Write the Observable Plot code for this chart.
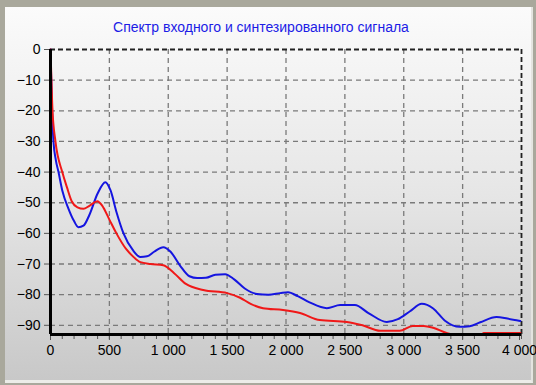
<!DOCTYPE html>
<html>
<head>
<meta charset="utf-8">
<script src="https://cdn.jsdelivr.net/npm/d3@7"></script>
<script src="https://cdn.jsdelivr.net/npm/@observablehq/plot@0.6"></script>
<style>
  html, body { margin: 0; padding: 0; }
  body { width: 536px; height: 385px; overflow: hidden; background: #d6d6d0; }
  #frame { position: absolute; left: 0; top: 0; width: 536px; height: 385px;
    background: #a9a89c; }
  #panel { position: absolute; left: 5px; top: 7px; width: 526px; height: 373px;
    background: linear-gradient(to bottom, #fbfbfb 0%, #e6e6e6 50%, #c8c8c8 100%);
    border-right: 2px solid #e4e4e0; border-bottom: 3px solid #ecece8; }
  #title { position: absolute; left: 0; top: 19px; width: 522px; text-align: center;
    font-family: "Liberation Sans", Arial, sans-serif; font-size: 14px; color: #1c1ce6; }
  #chart { position: absolute; left: 0; top: 40px; }
</style>
</head>
<body>
<div id="frame"></div>
<div id="panel"></div>
<div id="title">Спектр входного и синтезированного сигнала</div>
<div id="chart"></div>
<script>
// Frequency (Hz) and level (dB) of the input signal spectrum (blue)
const inputFreq = [0, 5, 12, 25, 45, 68, 100, 153, 200, 237, 280, 330, 400, 466, 510, 560, 620, 700, 763, 820, 880, 958, 1020, 1100, 1180, 1246, 1320, 1400, 1483, 1560, 1650, 1754, 1850, 1950, 2017, 2100, 2200, 2347, 2460, 2585, 2700, 2856, 2950, 3050, 3153, 3250, 3350, 3475, 3560, 3650, 3788, 3880, 3990];
const inputLevel = [0, -8, -18, -30, -36, -40, -46, -52, -56, -58, -57.5, -54, -47, -43.3, -46, -53, -60, -65.5, -67.7, -67.5, -66, -64.5, -66, -70.5, -74, -74.6, -74.5, -73.5, -73.3, -75, -78, -79.8, -80, -79.5, -79.2, -80.5, -82.5, -84.4, -83.4, -83.4, -86, -88.9, -88, -85.5, -83, -84.5, -88.5, -90.5, -90.3, -89, -87.3, -87.8, -88.6];

// Frequency (Hz) and level (dB) of the synthesized signal spectrum (red)
const synthFreq = [0, 8, 17, 42, 100, 140, 180, 229, 280, 330, 398, 440, 500, 560, 640, 700, 763, 850, 958, 1050, 1150, 1297, 1500, 1610, 1700, 1805, 1975, 2119, 2288, 2517, 2650, 2800, 2966, 3076, 3170, 3250, 3364, 3420, 3660, 3680, 3990];
const synthLevel = [0, -10, -20, -30, -40, -45, -49.5, -51.5, -52, -51, -49.5, -51, -55.5, -60, -65, -67.5, -69.4, -70, -70.4, -73, -76.5, -78.5, -79.5, -81, -83, -84.4, -85, -86, -88.3, -88.9, -90, -91.8, -91.8, -90.2, -90.2, -90.8, -92.5, -93, -93, -92.5, -92.5];

const xTicks = [0, 500, 1000, 1500, 2000, 2500, 3000, 3500, 4000];
const xMinorTicks = d3.range(0, 4001, 100);
const yTicks = [0, -10, -20, -30, -40, -50, -60, -70, -80, -90];

const inputData = inputFreq.map((f, i) => ({f, v: inputLevel[i]}));
const synthData = synthFreq.map((f, i) => ({f, v: synthLevel[i]}));

const grid = {stroke: "#7a7a7a", strokeDasharray: "5,4", strokeWidth: 1.3, strokeOpacity: 1};
const border = {stroke: "#222", strokeDasharray: "5,3", strokeWidth: 1.8};
const fmt = d => d3.format(",")(d).replace(/,/g, " ");

const chart = Plot.plot({
  width: 536,
  height: 345,
  marginLeft: 50,
  marginRight: 15,
  marginTop: 9,
  marginBottom: 51,
  style: {background: "transparent", fontFamily: "'Liberation Sans', Arial, sans-serif", fontSize: "14px", color: "#000"},
  x: {domain: [0, 4000], label: null},
  y: {domain: [-93, 0], label: null},
  marks: [
    Plot.gridX(xTicks.slice(1, -1), grid),
    Plot.gridY(yTicks.slice(1), grid),
    Plot.ruleY([0], border),
    Plot.ruleX([4000], border),
    Plot.line(inputData, {x: "f", y: "v", stroke: "#1515e0", strokeWidth: 2, curve: "monotone-x"}),
    Plot.line(synthData, {x: "f", y: "v", stroke: "#f01818", strokeWidth: 2, curve: "monotone-x"}),
    Plot.axisX(xMinorTicks, {tickSize: 5, text: null, stroke: "#555"}),
    Plot.axisX(xTicks.slice(0, -1), {tickSize: 6, tickPadding: 5, stroke: "#555", tickFormat: fmt}),
    Plot.axisX(xTicks.slice(-1), {tickSize: 6, tickPadding: 5, stroke: "#555", tickFormat: fmt, dx: -2}),
    Plot.axisY(yTicks, {tickSize: 6, tickPadding: 4, stroke: "#555"}),
    Plot.ruleY([-93], {stroke: "#000", strokeWidth: 3}),
    Plot.ruleX([0], {stroke: "#000", strokeWidth: 3})
  ]
});
document.getElementById("chart").appendChild(chart);
</script>
</body>
</html>
